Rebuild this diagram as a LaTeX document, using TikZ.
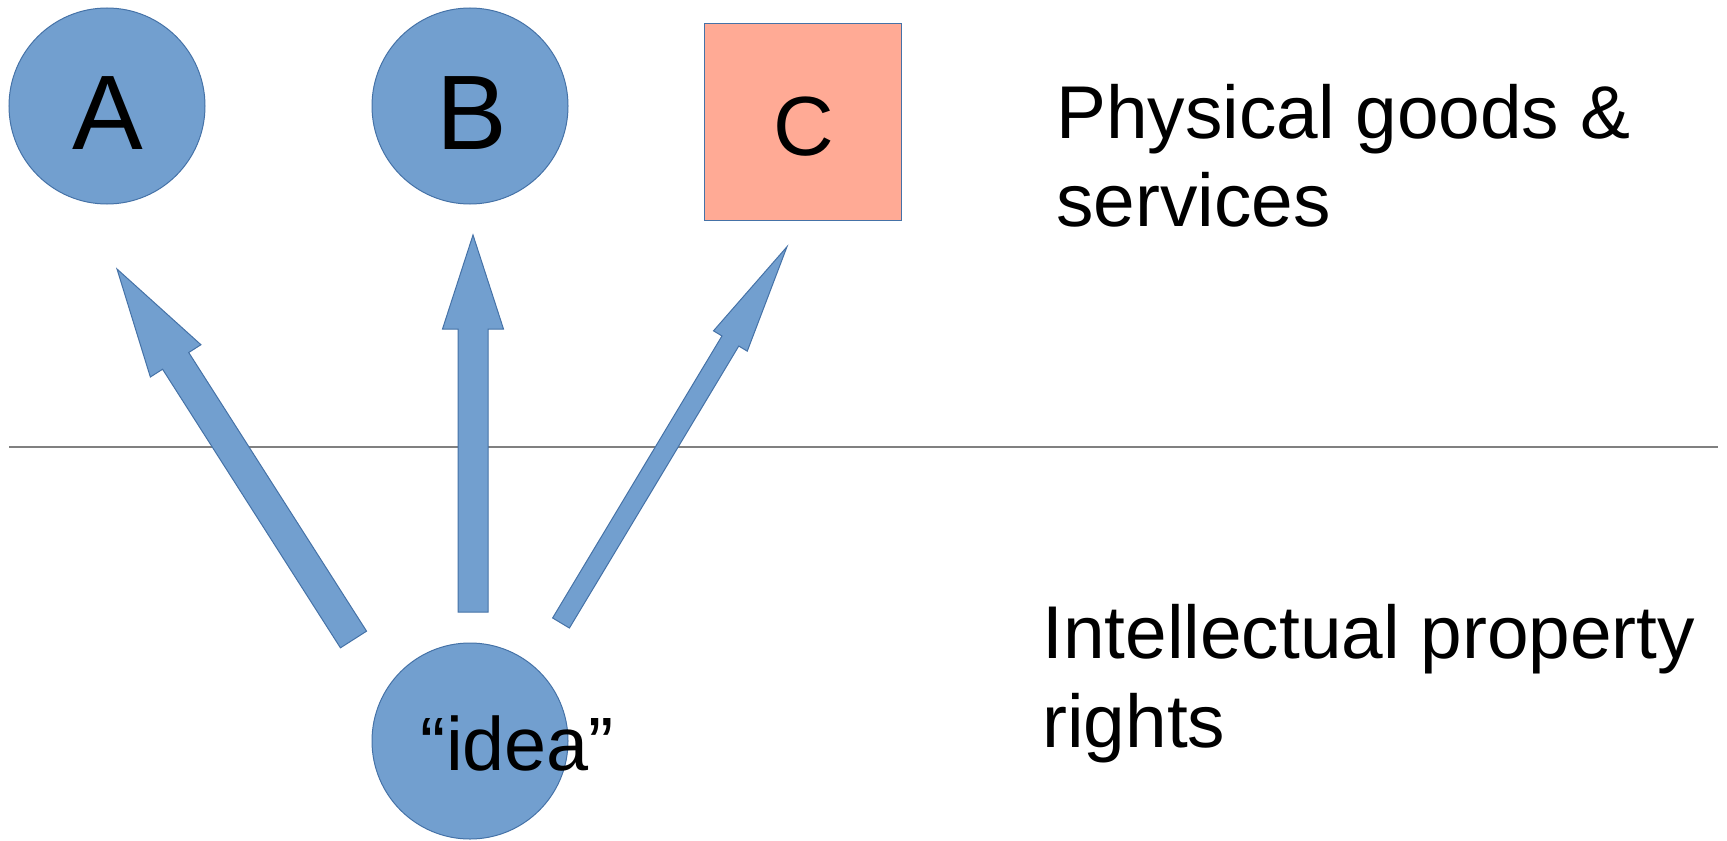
\documentclass[tikz,border=0pt]{standalone}
\usepackage{fontspec}
\setmainfont{Liberation Sans}
\usetikzlibrary{calc}
\definecolor{bluefill}{RGB}{114,159,207}
\definecolor{blueline}{RGB}{69,114,167}
\definecolor{salmon}{RGB}{255,170,149}
\definecolor{rulegray}{RGB}{128,128,128}
\tikzset{
  circ/.style={circle, fill=bluefill, draw=blueline, line width=0.5pt, minimum size=98pt, inner sep=0pt},
  sqbox/.style={rectangle, fill=salmon, draw=blueline, line width=0.5pt, minimum width=98.5pt, minimum height=98.5pt, inner sep=0pt},
  bigletter/.style={font=\fontsize{53}{60}\selectfont, inner sep=0pt},
  midletter/.style={font=\fontsize{42}{48}\selectfont, inner sep=0pt},
  idealbl/.style={font=\fontsize{37.8}{44}\selectfont, inner sep=0pt},
  sidelbl/.style={font=\fontsize{37.4}{44.2}\selectfont, inner sep=0pt, align=left},
  arrowbody/.style={fill=bluefill, draw=blueline, line width=0.5pt, line join=miter},
  divider/.style={draw=rulegray, line width=1pt}
}
% #1 start, #2 tip, #3 shaft half width, #4 head half width, #5 head length
\newcommand\blockarrow[5]{%
  \coordinate (#1h) at ($(#2)!#5!(#1)$);
  \draw[arrowbody] ($(#1)!#3!90:(#2)$) -- ($(#1h)!#3!90:(#2)$) -- ($(#1h)!#4!90:(#2)$) -- (#2)
    -- ($(#1h)!#4!-90:(#2)$) -- ($(#1h)!#3!-90:(#2)$) -- ($(#1)!#3!-90:(#2)$) -- cycle;
}
\begin{document}
\begin{tikzpicture}[x=0.5pt, y=-0.5pt]
\useasboundingbox (0,0) rectangle (1727,840);
% divider
\coordinate (lineL) at (9,447);
\coordinate (lineR) at (1718,447);
\draw[divider] (lineL) -- (lineR);
% top row
\node[circ] (A) at (107,106) {};
\node[bigletter, anchor=base] (Atext) at (108,149) {A};
\node[circ] (B) at (470,106) {};
\node[bigletter, anchor=base] (Btext) at (472,149) {B};
\node[sqbox] (C) at (803,121.7) {};
\node[midletter, anchor=base] (Ctext) at (804,155.5) {C};
% idea
\node[circ] (idea) at (470,741) {};
\node[idealbl, anchor=base west] (ideatext) at (420.5,770) {“idea”};
% arrows
\coordinate (aS) at (353.5,639.5);
\coordinate (aT) at (117,269);
\coordinate (bS) at (473,612);
\coordinate (bT) at (473,235);
\coordinate (cS) at (561,623);
\coordinate (cT) at (787,246.7);
\blockarrow{aS}{aT}{7.75pt}{15pt}{54.5pt}
\blockarrow{bS}{bT}{7.5pt}{15.25pt}{47pt}
\blockarrow{cS}{cT}{4.9pt}{9.85pt}{55pt}
% side labels (base = baseline of the last line)
\node[sidelbl, anchor=base west] (phys) at (1056,226.7) {Physical goods \&\\services};
\node[sidelbl, anchor=base west] (ipr) at (1042,747) {Intellectual property\\rights};
\end{tikzpicture}
\end{document}
